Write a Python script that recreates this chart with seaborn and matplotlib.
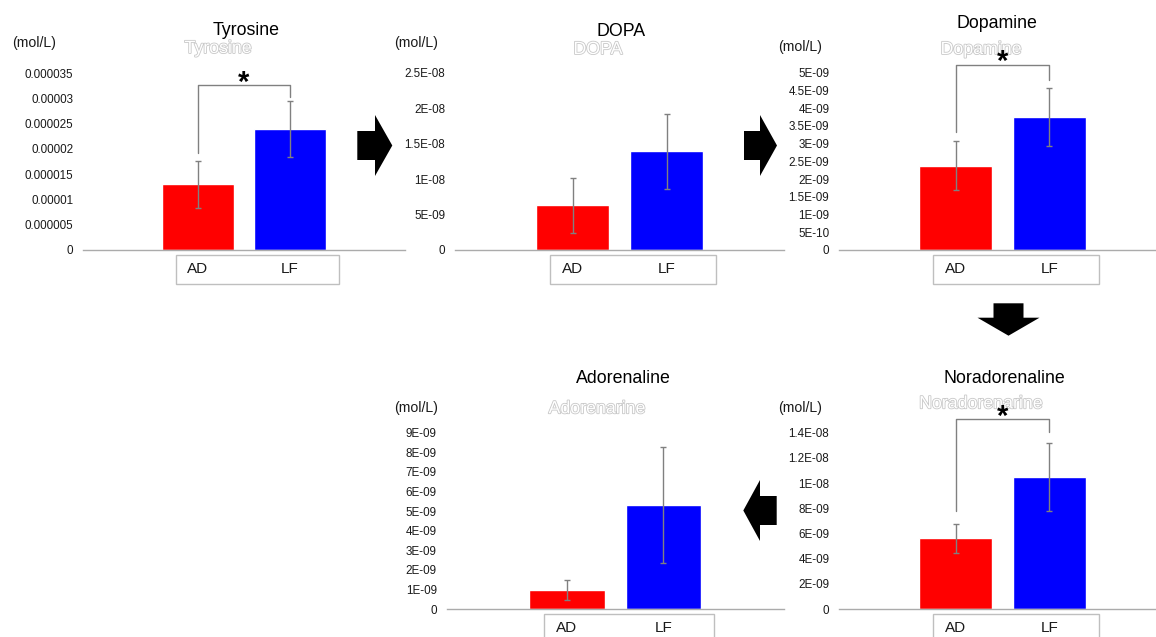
import matplotlib
matplotlib.use("Agg")
import matplotlib.pyplot as plt
import matplotlib.patheffects as pe
from matplotlib.patches import Polygon, Rectangle
from matplotlib import transforms
import seaborn as sns

# ---- data -------------------------------------------------------------
categories = ["AD", "LF"]

tyrosine_mean = [13.0e-6, 23.9e-6]
tyrosine_err = [4.6e-6, 5.5e-6]
tyrosine_ticks = [0, 5e-6, 10e-6, 15e-6, 20e-6, 25e-6, 30e-6, 35e-6]
tyrosine_labels = ["0", "0.000005", "0.00001", "0.000015", "0.00002",
                   "0.000025", "0.00003", "0.000035"]

dopa_mean = [6.3e-9, 13.9e-9]
dopa_err = [3.9e-9, 5.3e-9]
dopa_ticks = [0, 5e-9, 10e-9, 15e-9, 20e-9, 25e-9]
dopa_labels = ["0", "5E-09", "1E-08", "1.5E-08", "2E-08", "2.5E-08"]

dopamine_mean = [2.38e-9, 3.75e-9]
dopamine_err = [0.70e-9, 0.83e-9]
dopamine_ticks = [0, 0.5e-9, 1e-9, 1.5e-9, 2e-9, 2.5e-9, 3e-9, 3.5e-9,
                  4e-9, 4.5e-9, 5e-9]
dopamine_labels = ["0", "5E-10", "1E-09", "1.5E-09", "2E-09", "2.5E-09",
                   "3E-09", "3.5E-09", "4E-09", "4.5E-09", "5E-09"]

adrenaline_mean = [0.98e-9, 5.31e-9]
adrenaline_err = [0.50e-9, 2.94e-9]
adrenaline_ticks = [0, 1e-9, 2e-9, 3e-9, 4e-9, 5e-9, 6e-9, 7e-9, 8e-9, 9e-9]
adrenaline_labels = ["0", "1E-09", "2E-09", "3E-09", "4E-09", "5E-09",
                     "6E-09", "7E-09", "8E-09", "9E-09"]

noradrenaline_mean = [5.61e-9, 10.46e-9]
noradrenaline_err = [1.13e-9, 2.69e-9]
noradrenaline_ticks = [0, 2e-9, 4e-9, 6e-9, 8e-9, 10e-9, 12e-9, 14e-9]
noradrenaline_labels = ["0", "2E-09", "4E-09", "6E-09", "8E-09", "1E-08",
                        "1.2E-08", "1.4E-08"]

bar_colors = ["#FF0000", "#0000FF"]
unit_label = "(mol/L)"

# ---- style ------------------------------------------------------------
sns.set_style("white")
plt.rcParams["font.family"] = ["Liberation Sans", "DejaVu Sans"]

W, H = 1156, 637
fig = plt.figure(figsize=(W / 100, H / 100), dpi=100)

# full-figure overlay in pixel units for titles and flow arrows
ov = fig.add_axes([0, 0, 1, 1])
ov.set_xlim(0, W)
ov.set_ylim(H, 0)
ov.axis("off")
ov.set_zorder(0)

GRAY = "#808080"
AXIS_GRAY = "#ABABAB"
BOX_GRAY = "#BFBFBF"

panels = [
    dict(title="Tyrosine", ghost="Tyrosine", mean=tyrosine_mean, err=tyrosine_err,
         ticks=tyrosine_ticks, labels=tyrosine_labels,
         left=83, top=73, bottom=250, step=92,
         title_xy=(246, 35), ghost_xy=(218, 53), unit_xy=(34, 46.5),
         sig=(8, 4, 16)),
    dict(title="DOPA", ghost="DOPA", mean=dopa_mean, err=dopa_err,
         ticks=dopa_ticks, labels=dopa_labels,
         left=455, top=72.7, bottom=250, step=94,
         title_xy=(621, 35.5), ghost_xy=(598, 54), unit_xy=(416, 46.5),
         sig=None),
    dict(title="Dopamine", ghost="Dopamine", mean=dopamine_mean, err=dopamine_err,
         ticks=dopamine_ticks, labels=dopamine_labels,
         left=839, top=72.7, bottom=250, step=93.5,
         title_xy=(997, 28.3), ghost_xy=(981, 54), unit_xy=(800, 51.5),
         sig=(9, 8, 23)),
    dict(title="Adorenaline", ghost="Adorenarine", mean=adrenaline_mean,
         err=adrenaline_err, ticks=adrenaline_ticks, labels=adrenaline_labels,
         left=446.5, top=432.7, bottom=609, step=96.4,
         title_xy=(623, 383.3), ghost_xy=(597, 413.3), unit_xy=(416, 412.3),
         sig=None),
    dict(title="Noradorenaline", ghost="Noradorenarine", mean=noradrenaline_mean,
         err=noradrenaline_err, ticks=noradrenaline_ticks,
         labels=noradrenaline_labels,
         left=839, top=432.7, bottom=609, step=93.5,
         title_xy=(1004, 383.3), ghost_xy=(981, 408.3), unit_xy=(800, 412.3),
         sig=(13, 11.6, 24)),
]

XMIN, XMAX = -1.25, 2.25
BAR_W = 0.78

for p in panels:
    width_px = (XMAX - XMIN) * p["step"]
    height_px = p["bottom"] - p["top"]
    ax = fig.add_axes([p["left"] / W, (H - p["bottom"]) / H,
                       width_px / W, height_px / H])
    ax.set_zorder(1)
    ax.patch.set_visible(False)

    sns.barplot(x=categories, y=p["mean"], hue=categories, palette=bar_colors,
                width=BAR_W, saturation=1, legend=False, ax=ax, zorder=2)
    ax.errorbar(x=range(len(categories)), y=p["mean"], yerr=p["err"], fmt="none",
                ecolor=GRAY, elinewidth=1, capsize=2.3, capthick=1, zorder=3)

    ymax = p["ticks"][-1]
    ax.set_xlim(XMIN, XMAX)
    ax.set_ylim(0, ymax)
    ax.set_yticks(p["ticks"])
    ax.set_yticklabels(p["labels"])
    ax.set_xticks(range(len(categories)))
    ax.set_xticklabels(categories)
    ax.tick_params(axis="y", length=0, pad=7, labelsize=8.4, labelcolor="#1a1a1a")
    ax.tick_params(axis="x", length=0, pad=8.5, labelsize=11, labelcolor="#1a1a1a")
    ax.set_xlabel("")
    ax.set_ylabel("")
    for side in ("left", "top", "right"):
        ax.spines[side].set_visible(False)
    ax.spines["bottom"].set_color(AXIS_GRAY)
    ax.spines["bottom"].set_linewidth(1)

    # framed box around the category labels
    blend = transforms.blended_transform_factory(ax.transData, ax.transAxes)
    box_top = -5 / height_px
    box_bot = -34 / height_px
    ax.add_patch(Rectangle((-0.24, box_bot), 1.77, box_top - box_bot,
                           transform=blend, fill=False, edgecolor=BOX_GRAY,
                           linewidth=1, clip_on=False))

    # significance bracket
    if p["sig"] is not None:
        gap_l, gap_r, gap_top = p["sig"]
        px = ymax / height_px
        top_l = p["mean"][0] + p["err"][0]
        top_r = p["mean"][1] + p["err"][1]
        y_bar = top_r + gap_top * px
        ax.plot([0, 0, 1, 1],
                [top_l + gap_l * px, y_bar, y_bar, top_r + gap_r * px],
                color=GRAY, linewidth=1, clip_on=False, zorder=3)
        ax.text(0.5, y_bar - 5.5 * px, "*", ha="center", va="baseline",
                fontsize=21, fontweight="bold", color="black",
                clip_on=False, zorder=4)

    # titles and unit label
    ov.text(*p["ghost_xy"], p["ghost"], ha="center", va="baseline",
            fontsize=12.8, color="white",
            path_effects=[pe.Stroke(linewidth=1.2, foreground="#C8C8C8"),
                          pe.Normal()])
    ov.text(*p["title_xy"], p["title"], ha="center", va="baseline",
            fontsize=12.8, color="black")
    ov.text(*p["unit_xy"], unit_label, ha="center", va="baseline",
            fontsize=10.2, color="#1a1a1a")


def block_arrow(tail, tip, shaft_w, head_w, head_len):
    """Solid block arrow in pixel coordinates of the overlay."""
    (x0, y0), (x1, y1) = tail, tip
    dx, dy = x1 - x0, y1 - y0
    length = (dx ** 2 + dy ** 2) ** 0.5
    ux, uy = dx / length, dy / length
    nx, ny = -uy, ux
    hx, hy = x1 - ux * head_len, y1 - uy * head_len
    sw, hw = shaft_w / 2, head_w / 2
    pts = [
        (x0 + nx * sw, y0 + ny * sw),
        (hx + nx * sw, hy + ny * sw),
        (hx + nx * hw, hy + ny * hw),
        (x1, y1),
        (hx - nx * hw, hy - ny * hw),
        (hx - nx * sw, hy - ny * sw),
        (x0 - nx * sw, y0 - ny * sw),
    ]
    ov.add_patch(Polygon(pts, closed=True, facecolor="black", edgecolor="none"))


block_arrow((357.3, 145.5), (392.3, 145.5), 29, 61, 17.3)
block_arrow((744, 145.5), (777, 145.5), 29, 61, 17)
block_arrow((1008.5, 303.3), (1008.5, 335.7), 30, 62, 18)
block_arrow((776.7, 510.5), (743.3, 510.5), 29, 61, 16.7)

fig.savefig("out.png", dpi=100)
